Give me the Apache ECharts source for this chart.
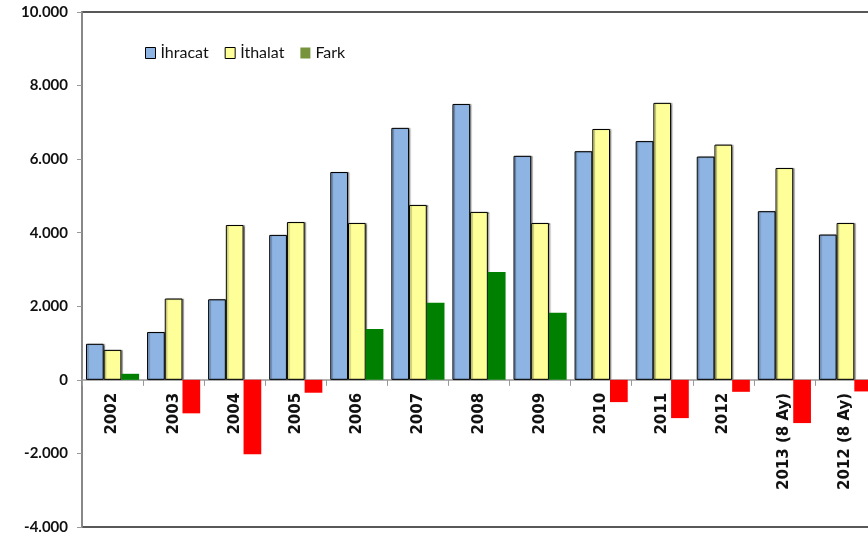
<!DOCTYPE html>
<html><head><meta charset="utf-8">
<script src="https://cdn.jsdelivr.net/npm/echarts@6/dist/echarts.min.js"></script>
<style>html,body{margin:0;padding:0;background:#fff}#c{width:868px;height:542px}</style>
</head><body><div id="c"></div>
<script>
const categories = ['2002','2003','2004','2005','2006','2007','2008','2009','2010','2011','2012','2013 (8 Ay)','2012 (8 Ay)'];
const ihracat = [980, 1300, 2190, 3940, 5650, 6850, 7500, 6090, 6215, 6490, 6070, 4585, 3950];
const ithalat = [815, 2210, 4210, 4290, 4265, 4755, 4565, 4265, 6820, 7530, 6395, 5760, 4265];
const fark = [165, -910, -2020, -350, 1385, 2095, 2935, 1825, -605, -1040, -325, -1175, -315];
const yTicks = [-4000, -2000, 0, 2000, 4000, 6000, 8000, 10000];

const Y_MIN = -4000, Y_MAX = 10000;
const GRID_TOP = 12, GRID_BOTTOM = 15, H = 542;
const gridH = H - GRID_TOP - GRID_BOTTOM;
const zeroOffset = -gridH * (0 - Y_MIN) / (Y_MAX - Y_MIN);

const chart = echarts.init(document.getElementById('c'));
const fmt = v => {
  const s = Math.abs(v).toString().replace(/\B(?=(\d{3})+(?!\d))/g, '.');
  return (v < 0 ? '-' : '') + s;
};
const barBorder = { borderColor: '#000', borderWidth: 1, shadowColor: 'rgba(0,0,0,0.35)', shadowOffsetX: 1.5, shadowOffsetY: 0, shadowBlur: 1 };
chart.setOption({
  animation: false,
  grid: { left: 82, top: GRID_TOP, bottom: GRID_BOTTOM, width: 794, containLabel: false, outerBoundsMode: 'none', show: true, borderColor: '#222', borderWidth: 1.5, backgroundColor: 'transparent' },
  legend: {
    left: 140, top: 40, itemWidth: 10, itemHeight: 11, itemGap: 16,
    textStyle: { fontFamily: 'Lato', fontSize: 16, color: '#111' },
    data: [
      { name: 'İhracat', icon: 'rect', itemStyle: { color: '#8eb4e3', borderColor: '#000', borderWidth: 1 } },
      { name: 'İthalat', icon: 'rect', itemStyle: { color: '#ffff99', borderColor: '#000', borderWidth: 1 } },
      { name: 'Fark', icon: 'rect', itemStyle: { color: '#77933c', borderWidth: 0 } }
    ]
  },
  xAxis: {
    type: 'category', data: categories, position: 'bottom', offset: zeroOffset,
    axisLine: { onZero: false, lineStyle: { color: '#999', width: 1.5 } },
    axisTick: { show: true, inside: false, length: 6, lineStyle: { color: '#999' } },
    axisLabel: { rotate: 90, margin: 13, fontFamily: 'DejaVu Sans', fontWeight: 'bold', fontSize: 15, color: '#111' }
  },
  yAxis: {
    type: 'value', min: Y_MIN, max: Y_MAX, interval: 2000,
    axisLine: { show: true, lineStyle: { color: '#999', width: 1.5 } },
    axisTick: { show: true, length: 5, lineStyle: { color: '#999' } },
    splitLine: { show: false },
    axisLabel: { margin: 14, fontFamily: 'Lato', fontWeight: 'bold', fontSize: 15, color: '#111', formatter: v => yTicks.includes(v) ? fmt(v) : '' }
  },
  series: [
    { name: 'İhracat', type: 'bar', data: ihracat, barGap: '0%', barCategoryGap: '13%', itemStyle: Object.assign({ color: '#8eb4e3' }, barBorder) },
    { name: 'İthalat', type: 'bar', data: ithalat, barGap: '0%', itemStyle: Object.assign({ color: '#ffff99' }, barBorder) },
    { name: 'Fark', type: 'bar', data: fark, barGap: '0%', itemStyle: { color: p => p.value >= 0 ? '#008000' : '#ff0000' } }
  ]
});
</script></body></html>
